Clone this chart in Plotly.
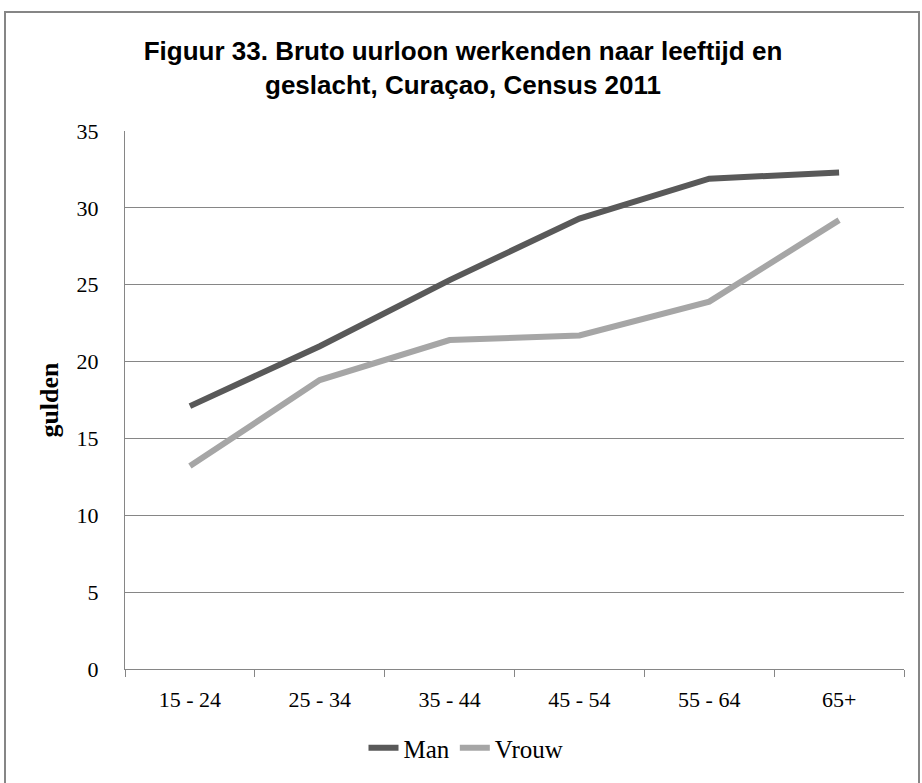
import plotly.graph_objects as go

categories = ["15 - 24", "25 - 34", "35 - 44", "45 - 54", "55 - 64", "65+"]
man = [17.1, 21.0, 25.3, 29.3, 31.9, 32.3]
vrouw = [13.2, 18.8, 21.4, 21.7, 23.9, 29.2]
y_ticks = [0, 5, 10, 15, 20, 25, 30, 35]

fig = go.Figure()
fig.add_trace(go.Scatter(x=categories, y=man, mode="lines", name="Man",
                         line=dict(color="#595959", width=6)))
fig.add_trace(go.Scatter(x=categories, y=vrouw, mode="lines", name="Vrouw",
                         line=dict(color="#A6A6A6", width=6)))

serif = "Liberation Serif, Times New Roman, serif"

fig.update_layout(
    width=922, height=783,
    margin=dict(l=125, r=18, t=131, b=114),
    paper_bgcolor="white", plot_bgcolor="white",
    title=dict(
        text="<b>Figuur 33. Bruto uurloon werkenden naar leeftijd en<br>geslacht, Curaçao, Census 2011</b>",
        x=463 / 922, xanchor="center", y=1 - 60 / 783, yanchor="middle",
        font=dict(family="Liberation Sans, Arial, sans-serif", size=26, color="black"),
    ),
    xaxis=dict(
        type="category", range=[-0.5, 5.5], tickson="boundaries",
        ticks="outside", ticklen=7, tickcolor="#868686", tickwidth=1,
        showline=True, linecolor="#868686", linewidth=1,
        showgrid=False, ticklabelstandoff=11,
        tickfont=dict(family=serif, size=22, color="black"),
    ),
    yaxis=dict(
        range=[0, 35], tickvals=y_ticks, ticks="",
        showline=True, linecolor="#868686", linewidth=1,
        showgrid=True, gridcolor="#868686", gridwidth=1,
        zeroline=False, ticklabelstandoff=21,
        tickfont=dict(family=serif, size=22, color="black"),
        title=dict(text="<b>gulden</b>", font=dict(family=serif, size=26, color="black"), standoff=10),
    ),
    legend=dict(
        orientation="h", x=(466 - 125) / 779, xanchor="center",
        y=(669 - 748) / 538, yanchor="middle",
        font=dict(family=serif, size=25, color="black"),
        itemwidth=30, tracegroupgap=0,
    ),
    shapes=[dict(type="rect", xref="paper", yref="paper",
                 x0=(5 - 125) / 779, x1=(919 - 125) / 779,
                 y0=(669 - 795) / 538, y1=(669 - 12) / 538,
                 line=dict(color="#868686", width=2), fillcolor="rgba(0,0,0,0)",
                 layer="below")],
)

fig.write_html("out.html", config={"displayModeBar": False},
               post_script="document.body.style.margin='0';document.body.style.overflow='hidden';")
